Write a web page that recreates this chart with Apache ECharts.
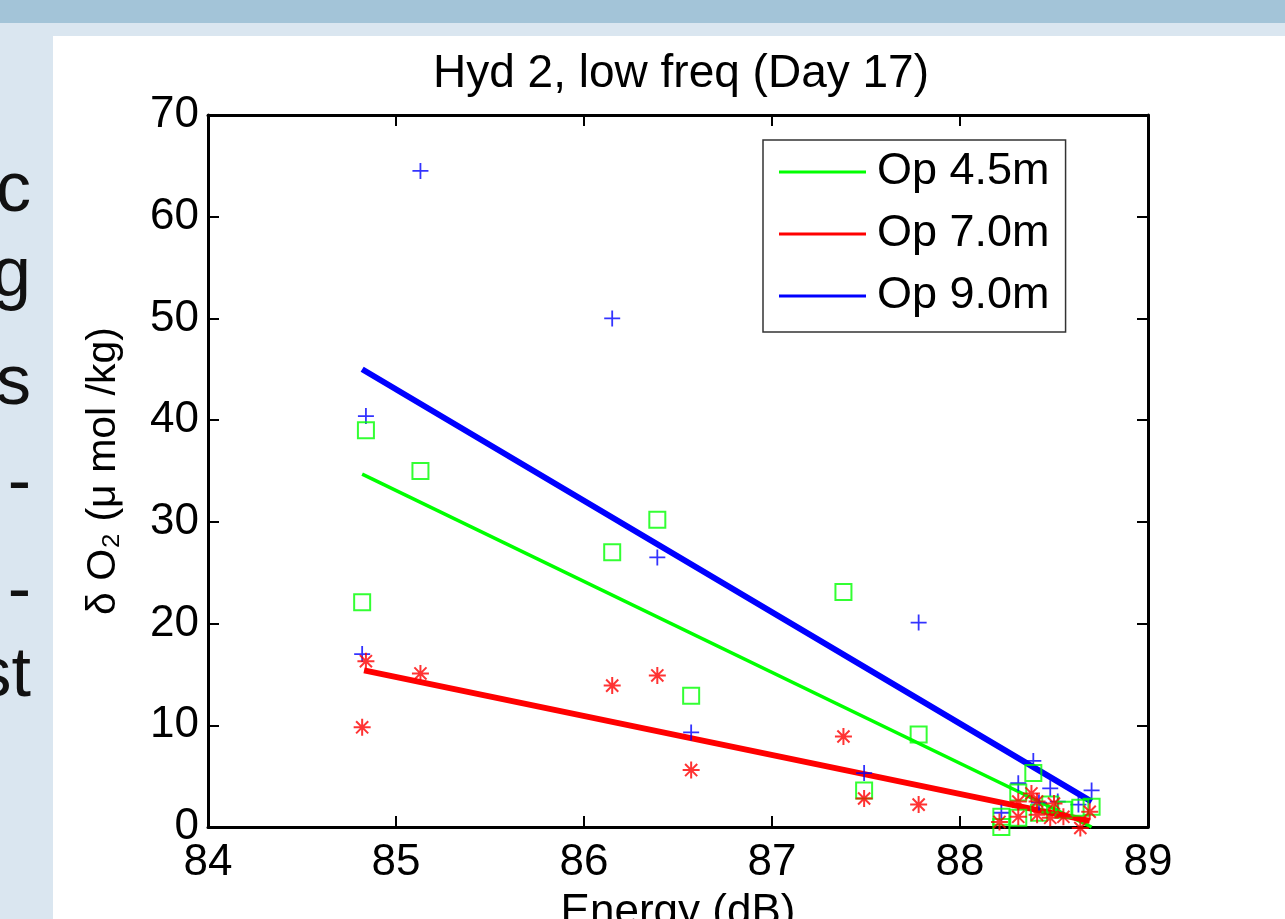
<!DOCTYPE html>
<html>
<head>
<meta charset="utf-8">
<title>Hyd 2, low freq (Day 17)</title>
<script src="https://cdn.jsdelivr.net/npm/echarts@6/dist/echarts.min.js"></script>
<style>
    html, body { margin: 0; padding: 0; background: #dae6f0; }
    #main { width: 1285px; height: 919px; }
</style>
</head>
<body>
<div id="main"></div>
<script>
// Data ///////
var xTicks = [84, 85, 86, 87, 88, 89];
var yTicks = [0, 10, 20, 30, 40, 50, 60, 70];

// Op 4.5m (green squares)
var greenX = [84.84, 85.13, 84.82, 86.15, 86.39, 86.57, 87.38, 87.78, 87.49, 88.39, 88.31, 88.22, 88.22, 88.31, 88.42, 88.55, 88.64, 88.70, 88.48];
var greenY = [39.0, 35.0, 22.1, 27.0, 30.2, 12.9, 23.1, 9.1, 3.6, 5.3, 3.4, 1.0, 0.0, 0.9, 1.4, 1.7, 1.9, 2.0, 2.2];

// Op 7.0m (red asterisks)
var redX = [84.84, 84.82, 85.13, 86.15, 86.39, 86.57, 87.38, 87.49, 87.78, 88.21, 88.31, 88.31, 88.38, 88.41, 88.50, 88.48, 88.55, 88.64, 88.69, 88.41];
var redY = [16.3, 9.8, 15.1, 13.9, 14.9, 5.6, 8.9, 2.8, 2.2, 0.5, 1.0, 2.5, 3.3, 2.5, 2.3, 0.9, 1.0, -0.1, 1.5, 1.2];

// Op 9.0m (blue plus)
var blueX = [85.13, 86.15, 84.84, 84.82, 86.39, 86.57, 87.49, 87.78, 88.39, 88.31, 88.48, 88.70, 88.52, 88.42, 88.63, 88.22];
var blueY = [64.5, 50.0, 40.4, 17.0, 26.5, 9.3, 5.3, 20.1, 6.5, 4.3, 3.8, 3.6, 2.5, 2.4, 2.2, 1.4];

// linear fits (end points)
var greenFitX = [84.82, 88.70];
var greenFitY = [34.7, 0.0];
var redFitX = [84.83, 88.69];
var redFitY = [15.4, 0.6];
var blueFitX = [84.82, 88.70];
var blueFitY = [45.0, 2.5];

var seriesNames = ['Op 4.5m', 'Op 7.0m', 'Op 9.0m'];

// left edge of the slide text that is hidden behind the figure
var slideText = ['c', 'g', 's', '-', '-', 'st'];
var slideTextY = [157, 242, 350, 450, 558, 642];

function pairs(xs, ys) {
    return xs.map(function (x, i) { return [x, ys[i]]; });
}

var FONT = 'Liberation Sans, Arial, Helvetica, sans-serif';
var plusPath = 'path://M0,8L16,8M8,0L8,16';
var starPath = 'path://M0,8L16,8M8,0L8,16M2.3,2.3L13.7,13.7M13.7,2.3L2.3,13.7';

var boxAxis = function (pos, min, max, interval, showLabel) {
    return {
        type: 'value',
        position: pos,
        min: min,
        max: max,
        interval: interval,
        axisLine: { show: true, onZero: false, lineStyle: { color: '#000', width: 3 } },
        axisTick: { show: true, inside: true, length: 11, lineStyle: { color: '#000', width: 2 } },
        axisLabel: {
            show: showLabel,
            color: '#000',
            fontFamily: FONT,
            fontSize: 44,
            margin: pos === 'bottom' ? 14 : 9
        },
        splitLine: { show: false }
    };
};

var xMain = boxAxis('bottom', xTicks[0], xTicks[xTicks.length - 1], 1, true);
xMain.name = 'Energy (dB)';
xMain.nameLocation = 'middle';
xMain.nameGap = 64;
xMain.nameTextStyle = { color: '#000', fontFamily: FONT, fontSize: 44 };

var yMain = boxAxis('left', yTicks[0], yTicks[yTicks.length - 1], 10, true);
yMain.name = 'δ O₂ (μ mol /kg)';
yMain.nameLocation = 'middle';
yMain.nameRotate = 90;
yMain.nameGap = 84;
yMain.nameTextStyle = { color: '#000', fontFamily: FONT, fontSize: 41 };

var option = {
    backgroundColor: '#dae6f0',
    animation: false,
    title: {
        text: 'Hyd 2, low freq (Day 17)',
        left: 676,
        top: 46,
        textAlign: 'center',
        textStyle: { color: '#000', fontFamily: FONT, fontSize: 46, fontWeight: 'normal' }
    },
    graphic: [
        { type: 'rect', z: -5, shape: { x: 0, y: 0, width: 1285, height: 23 }, style: { fill: '#a3c4d8' } }
    ].concat(slideText.map(function (t, i) {
        return {
            type: 'text', z: -4, x: 31, y: slideTextY[i],
            style: { text: t, font: '70px ' + FONT, fill: '#111', align: 'right', verticalAlign: 'top' }
        };
    })).concat([
        { type: 'rect', z: -3, shape: { x: 53, y: 36, width: 1232, height: 883 }, style: { fill: '#ffffff' } }
    ]),
    legend: {
        data: seriesNames.map(function (n) { return { name: n, icon: 'rect' }; }),
        left: 763,
        top: 140,
        orient: 'vertical',
        itemWidth: 87,
        itemHeight: 3,
        itemGap: 12,
        padding: [7, 16, 11, 16],
        backgroundColor: '#fff',
        borderColor: '#333',
        borderWidth: 1.5,
        borderRadius: 0,
        textStyle: { color: '#000', fontFamily: FONT, fontSize: 45, lineHeight: 50, padding: [0, 0, 0, 6] }
    },
    grid: { left: 208, top: 115, width: 940, height: 712, outerBoundsMode: 'none' },
    xAxis: [xMain, boxAxis('top', xTicks[0], xTicks[xTicks.length - 1], 1, false)],
    yAxis: [yMain, boxAxis('right', yTicks[0], yTicks[yTicks.length - 1], 10, false)],
    series: [
        {
            name: 'Op 4.5m', type: 'line', symbol: 'none', z: 2,
            color: '#00ff00', lineStyle: { width: 3.5, color: '#00ff00' },
            data: pairs(greenFitX, greenFitY)
        },
        {
            name: 'Op 7.0m', type: 'line', symbol: 'none', z: 2,
            color: '#ff0000', lineStyle: { width: 6, color: '#ff0000' },
            data: pairs(redFitX, redFitY)
        },
        {
            name: 'Op 9.0m', type: 'line', symbol: 'none', z: 2,
            color: '#0000ff', lineStyle: { width: 6, color: '#0000ff' },
            data: pairs(blueFitX, blueFitY)
        },
        {
            name: 'pts 9.0m', type: 'scatter', symbol: plusPath, symbolSize: 16, clip: false, z: 3,
            itemStyle: { color: 'rgba(0,0,0,0)', borderColor: '#0000ff', borderWidth: 1.8 },
            emphasis: { disabled: true },
            data: pairs(blueX, blueY)
        },
        {
            name: 'pts 4.5m', type: 'scatter', symbol: 'rect', symbolSize: 16, clip: false, z: 3,
            itemStyle: { color: 'rgba(0,0,0,0)', borderColor: '#00ff00', borderWidth: 2 },
            emphasis: { disabled: true },
            data: pairs(greenX, greenY)
        },
        {
            name: 'pts 7.0m', type: 'scatter', symbol: starPath, symbolSize: 17, clip: false, z: 3,
            itemStyle: { color: 'rgba(0,0,0,0)', borderColor: '#ff0000', borderWidth: 2 },
            emphasis: { disabled: true },
            data: pairs(redX, redY)
        }
    ]
};

// initialize echart
var chart = echarts.init(document.getElementById('main'));
chart.setOption(option);

window.addEventListener('resize', function () {
    chart.resize();
});
</script>
</body>
</html>
